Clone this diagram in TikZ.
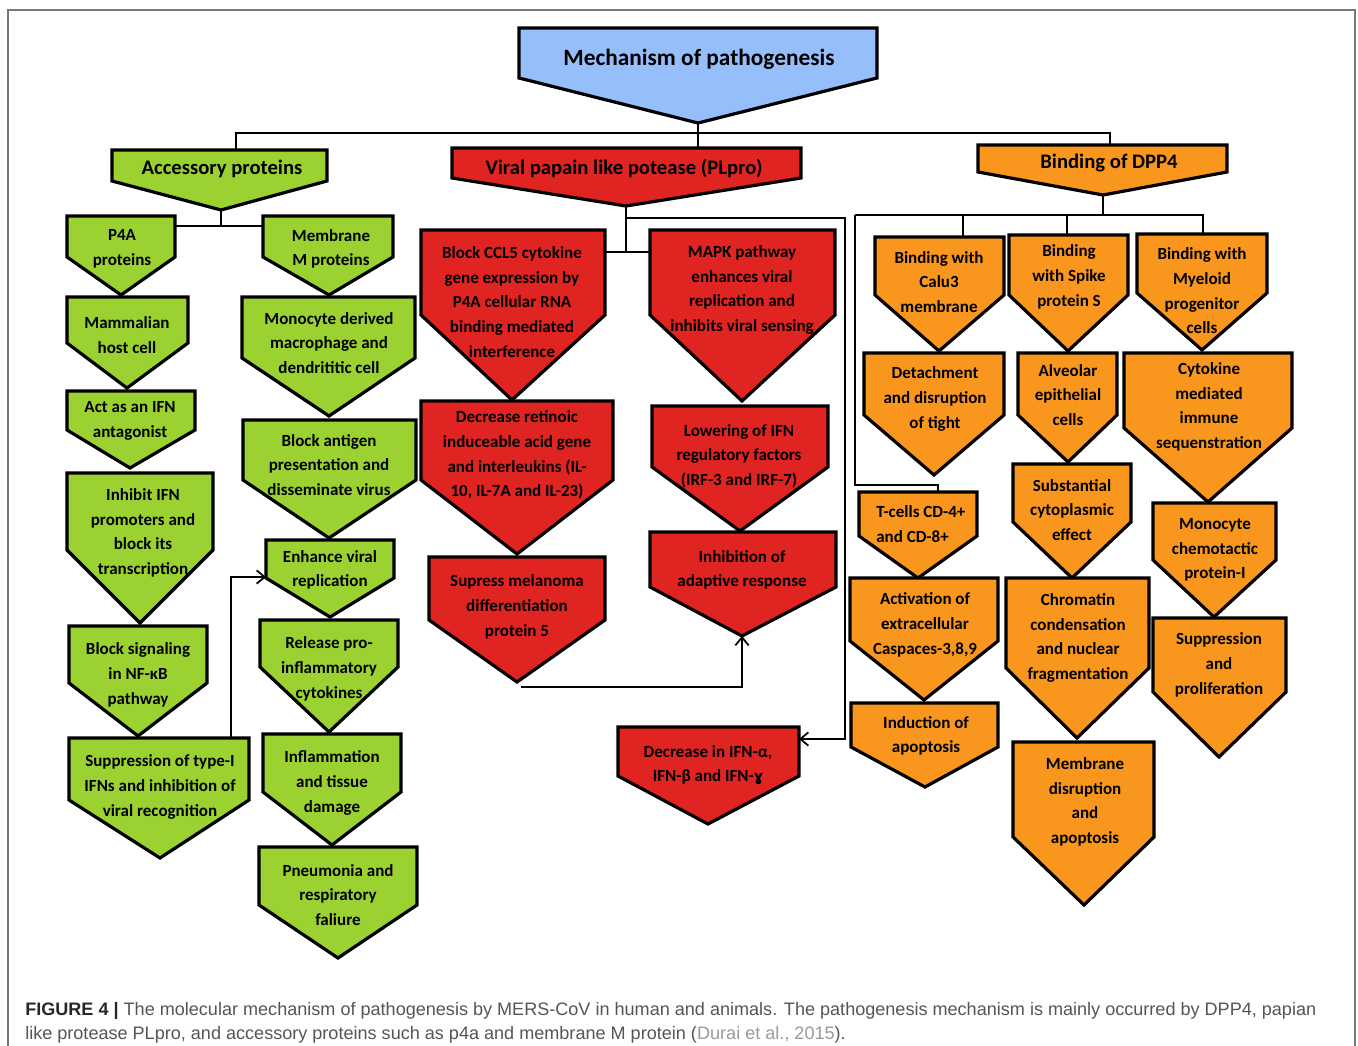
\documentclass[tikz,border=0pt]{standalone}
\usepackage{fontspec}
\setmainfont{Carlito}[BoldFont={Carlito Bold}]
\newfontfamily\capfont{Liberation Sans}
\newfontfamily\dvfont{DejaVu Sans}
\usetikzlibrary{arrows.meta}
\definecolor{cblue}{RGB}{150,190,250}
\definecolor{cgreen}{RGB}{155,210,50}
\definecolor{cred}{RGB}{224,36,34}
\definecolor{corange}{RGB}{248,150,30}
\definecolor{capgray}{RGB}{85,85,85}
\definecolor{capdark}{RGB}{40,40,40}
\definecolor{caplight}{RGB}{150,155,160}
\definecolor{framegray}{RGB}{120,120,120}
\newcommand\pbox[8]{%
  \filldraw[boxline,fill=#2] (#3,#5) -- (#4,#5) -- (#4,#6) -- (#7,#8) -- (#3,#6) -- cycle;
  \coordinate (#1-tl) at (#3,#5);
  \coordinate (#1-tr) at (#4,#5);
  \coordinate (#1-tip) at (#7,#8);
}
\begin{document}
\begin{tikzpicture}[x=0.75pt,y=-0.75pt,
  boxline/.style={draw=black,line width=2.4pt,line join=miter},
  conn/.style={draw=black,line width=1.5pt},
  arr/.style={conn,-{Straight Barb[length=6pt,width=10pt,line width=1.3pt]}},
  txt/.style={font=\fontsize{12.75}{18.5}\selectfont\bfseries,align=center,inner sep=0pt},
  ttl/.style={font=\fontsize{15.5}{18}\selectfont\bfseries,align=center,inner sep=0pt},
  captxt/.style={font=\fontsize{13.55}{15}\selectfont\capfont,anchor=base west,inner sep=0pt,text=capgray}]
\useasboundingbox (0,0) rectangle (1358,1045);
\draw[framegray,line width=1.1pt] (8,1046) -- (8,10) -- (1355,10) -- (1355,1046);

% junction coordinates
\coordinate (j1) at (698,133);
\coordinate (acc-in) at (236,150);
\coordinate (dpp-in) at (1110,145);
\coordinate (accj) at (221,226);
\coordinate (plpj) at (626,252);
\coordinate (plpk) at (626,218);
\coordinate (plpc) at (845,218);
\coordinate (difn-in) at (799,739);
\coordinate (dppj) at (1103,215);
\coordinate (dppl) at (855,215);
\coordinate (calu-in) at (963,237);
\coordinate (spike-in) at (1067,235);
\coordinate (myel-in) at (1203,234);
\coordinate (tcj) at (938,485);
\coordinate (tcell-in) at (938,492);
\coordinate (supj) at (231,738);
\coordinate (enh-in) at (266,577);
\coordinate (melj) at (521,687);
\coordinate (adap-in) at (742,636);
\coordinate (top-out) at (698,123);
\coordinate (plp-in) at (698,148);

% connectors
\draw[conn] (top-out) -- (plp-in);
\draw[conn] (acc-in) |- (j1) -| (dpp-in);
\draw[conn] (221,210) -- (accj);
\draw[conn] (175,226) -- (263,226);
\draw[conn] (626,206) -- (plpj);
\draw[conn] (605,252) -- (650,252);
\draw[arr] (plpk) -- (plpc) |- (difn-in);
\draw[conn] (1103,195) -- (dppj);
\draw[conn] (dppl) -- (dppl -| myel-in) -- (myel-in);
\draw[conn] (calu-in) -- (calu-in |- dppj);
\draw[conn] (spike-in) -- (spike-in |- dppj);
\draw[conn] (dppl) |- (tcj) -- (tcell-in);
\draw[arr] (supj) |- (enh-in);
\draw[arr] (melj) -| (adap-in);

% level 0/1
\pbox{top}{cblue}{519}{877}{28}{78}{698}{123}
\node[font=\fontsize{17.5}{20}\selectfont\bfseries,inner sep=0pt] (topt) at (699,59) {Mechanism of pathogenesis};
\pbox{acc}{cgreen}{112}{327}{150}{181}{221}{210}
\node[ttl] (acct) at (222,169) {Accessory proteins};
\pbox{plp}{cred}{452}{801}{148}{178}{626}{206}
\node[ttl] (plpt) at (624,168) {Viral papain like potease (PLpro)};
\pbox{dpp}{corange}{978}{1227}{145}{172}{1103}{195}
\node[ttl] (dppt) at (1109,163) {Binding of DPP4};

% green column
\pbox{p4a}{cgreen}{67}{175}{216}{257}{121}{295}
\node[txt] (p4at) at (122,249) {P4A\\proteins};
\pbox{mem}{cgreen}{263}{393}{216}{257}{329}{295}
\node[txt] (memt) at (331,249) {Membrane\\M proteins};
\pbox{mam}{cgreen}{67}{188}{297}{343}{127}{388}
\node[txt] (mamt) at (127,335) {Mammalian\\host cell};
\pbox{mono}{cgreen}{242}{415}{297}{358}{329}{416}
\node[txt] (monot) at (329,343) {Monocyte derived\\macrophage and\\dendrititic cell};
\pbox{act}{cgreen}{67}{195}{391}{430}{130}{468}
\node[txt] (actt) at (130,421) {Act as an IFN\\antagonist};
\pbox{bag}{cgreen}{243}{416}{420}{480}{329}{538}
\node[txt] (bagt) at (329,465) {Block antigen\\presentation and\\disseminate virus};
\pbox{inh}{cgreen}{67}{213}{473}{550}{140}{623}
\node[txt] (inht) at (143,533) {Inhibit IFN\\promoters and\\block its\\transcription};
\pbox{enh}{cgreen}{266}{394}{540}{578}{330}{617}
\node[txt] (enht) at (330,570) {Enhance viral\\replication};
\pbox{bsig}{cgreen}{69}{207}{626}{683}{138}{736}
\node[txt] (bsigt) at (138,675) {Block signaling\\in NF-κB\\pathway};
\pbox{rel}{cgreen}{260}{398}{620}{667}{329}{732}
\node[txt] (relt) at (329,669) {Release pro-\\inflammatory\\cytokines};
\pbox{sup}{cgreen}{69}{249}{738}{800}{160}{858}
\node[txt] (supt) at (160,787) {Suppression of type-I\\IFNs and inhibition of\\viral recognition};
\pbox{infl}{cgreen}{263}{401}{734}{792}{332}{845}
\node[txt] (inflt) at (332,783) {Inflammation\\and tissue\\damage};
\pbox{pneu}{cgreen}{259}{417}{847}{905}{338}{958}
\node[txt] (pneut) at (338,895) {Pneumonia and\\respiratory\\faliure};

% red column
\pbox{ccl}{cred}{421}{605}{230}{315}{512}{400}
\node[txt] (cclt) at (512,302) {Block CCL5 cytokine\\gene expression by\\P4A cellular RNA\\binding mediated\\interference};
\pbox{mapk}{cred}{650}{835}{230}{315}{742}{401}
\node[txt] (mapkt) at (742,290) {MAPK pathway\\enhances viral\\replication and\\inhibits viral sensing};
\pbox{ret}{cred}{421}{613}{401}{480}{517}{554}
\node[txt] (rett) at (517,455) {Decrease retinoic\\induceable acid gene\\and interleukins (IL-\\10, IL-7A and IL-23)};
\pbox{low}{cred}{652}{828}{406}{467}{740}{531}
\node[txt] (lowt) at (739,456) {Lowering of IFN\\regulatory factors\\(IRF-3 and IRF-7)};
\pbox{mel}{cred}{429}{605}{557}{620}{517}{682}
\node[txt] (melt) at (517,607) {Supress melanoma\\differentiation\\protein 5};
\pbox{adap}{cred}{650}{836}{532}{587}{742}{636}
\node[txt] (adapt) at (742,570) {Inhibition of\\adaptive response};
\pbox{difn}{cred}{618}{799}{727}{776}{708}{824}
\node[txt] (difnt) at (708,765) {Decrease in IFN-α,\\IFN-β and IFN-{\dvfont\fontsize{11}{11}\selectfont\bfseries ɣ}};

% orange column
\pbox{calu}{corange}{875}{1004}{237}{295}{939}{351}
\node[txt] (calut) at (939,282) {Binding with\\Calu3\\membrane};
\pbox{spike}{corange}{1009}{1128}{235}{295}{1068}{351}
\node[txt] (spiket) at (1069,277) {Binding\\with Spike\\protein S};
\pbox{myel}{corange}{1137}{1267}{234}{293}{1202}{350}
\node[txt] (myelt) at (1202,291) {Binding with\\Myeloid\\progenitor\\cells};
\pbox{det}{corange}{864}{1004}{353}{415}{934}{475}
\node[txt] (dett) at (935,399) {Detachment\\and disruption\\of tight};
\pbox{alv}{corange}{1018}{1117}{353}{415}{1068}{462}
\node[txt] (alvt) at (1068,395) {Alveolar\\epithelial\\cells};
\pbox{cyt}{corange}{1124}{1292}{353}{428}{1208}{502}
\node[txt] (cytt) at (1209,407) {Cytokine\\mediated\\immune\\sequenstration};
\pbox{tcell}{corange}{859}{977}{492}{536}{918}{578}
\node[txt,align=left,anchor=west] (tcellt) at (876,524) {T-cells CD-4+\\and CD-8+};
\pbox{subs}{corange}{1013}{1131}{464}{522}{1072}{578}
\node[txt] (subst) at (1072,510) {Substantial\\cytoplasmic\\effect};
\pbox{mcp}{corange}{1153}{1276}{503}{560}{1214}{617}
\node[txt] (mcpt) at (1215,550) {Monocyte\\chemotactic\\protein-I};
\pbox{actc}{corange}{850}{998}{578}{641}{924}{700}
\node[txt] (actct) at (925,625) {Activation of\\extracellular\\Caspaces-3,8,9};
\pbox{chrom}{corange}{1006}{1149}{578}{668}{1077}{738}
\node[txt] (chromt) at (1078,638) {Chromatin\\condensation\\and nuclear\\fragmentation};
\pbox{supp}{corange}{1153}{1286}{618}{692}{1219}{757}
\node[txt] (suppt) at (1219,665) {Suppression\\and\\proliferation};
\pbox{ind}{corange}{851}{998}{703}{747}{925}{787}
\node[txt] (indt) at (926,736) {Induction of\\apoptosis};
\pbox{memd}{corange}{1013}{1154}{742}{837}{1084}{905}
\node[txt] (memdt) at (1085,802) {Membrane\\disruption\\and\\apoptosis};

% caption
\node[captxt] (cap1) at (25,1015) {{\bfseries\color{capdark}FIGURE 4 |} The molecular mechanism of pathogenesis by MERS-CoV in human and animals. The pathogenesis mechanism is mainly occurred by DPP4, papian};
\node[captxt] (cap2) at (25,1039) {like protease PLpro, and accessory proteins such as p4a and membrane M protein ({\color{caplight}Durai et al., 2015}).};
\end{tikzpicture}
\end{document}
